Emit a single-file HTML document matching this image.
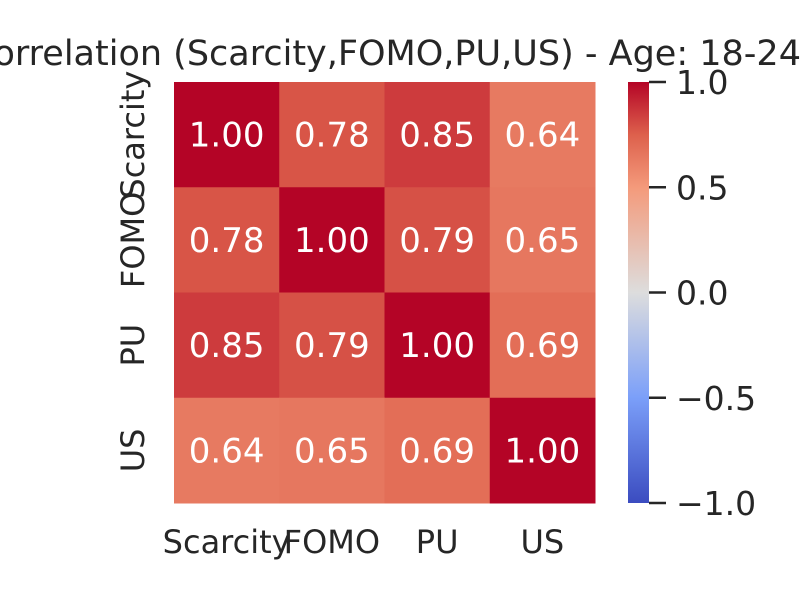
<!DOCTYPE html>
<html><head><meta charset="utf-8"><style>
body{margin:0;background:#fff;width:800px;height:600px;overflow:hidden}
svg{font-family:"DejaVu Sans","Liberation Sans",sans-serif}
</style></head><body>
<svg id="chart" width="800" height="600">
<text x="385" y="65" text-anchor="middle" font-size="35" fill="#262626">Correlation (Scarcity,FOMO,PU,US) - Age: 18-24</text>
<g id="cells"></g><g id="ylabels"></g><g id="xlabels"></g>
<defs><linearGradient id="cw" x1="0" y1="1" x2="0" y2="0">
<stop offset="0" stop-color="#3b4cc0"/><stop offset="0.25" stop-color="#7b9ff9"/><stop offset="0.5" stop-color="#dddddd"/><stop offset="0.75" stop-color="#f49a7b"/><stop offset="0.875" stop-color="#dd604c"/><stop offset="1" stop-color="#b40426"/></linearGradient></defs>
<rect x="628" y="82" width="21" height="421" fill="url(#cw)"/>
<g id="cbticks"></g>
</svg>
<script>
const labels=["Scarcity","FOMO","PU","US"];
const values=[[1.00,0.78,0.85,0.64],[0.78,1.00,0.79,0.65],[0.85,0.79,1.00,0.69],[0.64,0.65,0.69,1.00]];
const cbTicks=[1.0,0.5,0.0,-0.5,-1.0];
const X0=174,Y0=82,S=421;
const stops=[[0,[59,76,192]],[0.25,[123,159,249]],[0.5,[221,221,221]],[0.75,[244,154,123]],[0.875,[221,96,76]],[1,[180,4,38]]];
function cw(v){const t=(v+1)/2;for(let i=1;i<stops.length;i++){if(t<=stops[i][0]){const a=stops[i-1],b=stops[i],f=(t-a[0])/(b[0]-a[0]);return 'rgb('+a[1].map((c,k)=>Math.round(c+(b[1][k]-c)*f)).join(',')+')';}}return 'rgb(180,4,38)';}
const NS='http://www.w3.org/2000/svg';const n=labels.length,cs=S/n;
function mk(tag,attrs,parent,txt){const e=document.createElementNS(NS,tag);for(const k in attrs)e.setAttribute(k,attrs[k]);if(txt!==undefined)e.textContent=txt;document.getElementById(parent).appendChild(e);return e;}
values.forEach((row,i)=>row.forEach((v,j)=>{
 const r=mk('rect',{x:X0+j*cs,y:Y0+i*cs,width:cs+0.5,height:cs+0.5,fill:cw(v)},'cells');
 
 
 const t=mk('text',{x:X0+(j+0.5)*cs,y:Y0+(i+0.5)*cs+12,'text-anchor':'middle','font-size':'34',fill:'#fff'},'cells',v.toFixed(2));
 
 
}));
labels.forEach((l,i)=>{
 const cy=Y0+(i+0.5)*cs;
 const t=mk('text',{x:0,y:0,transform:`translate(144,${cy}) rotate(-90)`,'text-anchor':'middle','font-size':'32',fill:'#262626'},'ylabels',l);
 
 
 const x=mk('text',{x:X0+(i+0.5)*cs,y:553,'text-anchor':'middle','font-size':'32',fill:'#262626'},'xlabels',l);
 
 
});
cbTicks.forEach(v=>{
 const y=Y0+(1-(v+1)/2)*S;
 const ln=mk('line',{x1:649,x2:666,y1:y,y2:y,stroke:'#262626','stroke-width':'2.5'},'cbticks');
 
 
 const t=mk('text',{x:676,y:y+12,'font-size':'33',fill:'#262626'},'cbticks',(v<0?'\u2212':'')+Math.abs(v).toFixed(1));
 
 
});
</script>
</body></html>
